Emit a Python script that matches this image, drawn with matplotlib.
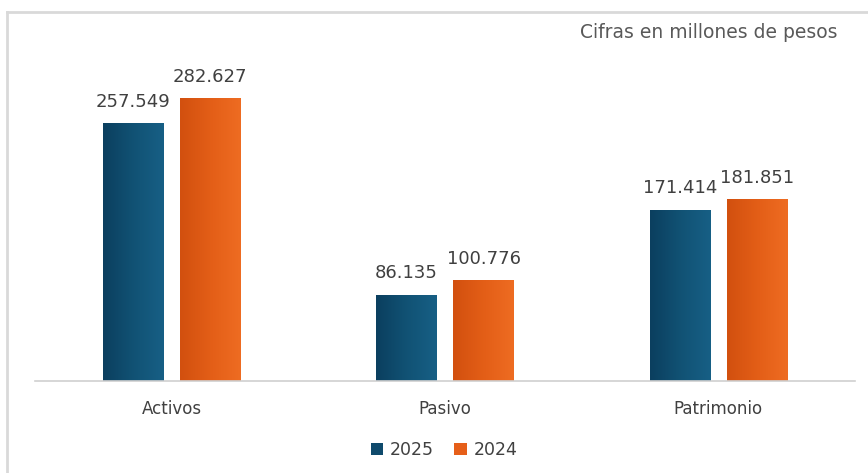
import numpy as np
import matplotlib.pyplot as plt
from matplotlib.colors import LinearSegmentedColormap
from matplotlib.lines import Line2D
from matplotlib.patches import Patch

# --- data (millones de pesos) ---
categorias = ['Activos', 'Pasivo', 'Patrimonio']
valores_2025 = [257.549, 86.135, 171.414]
valores_2024 = [282.627, 100.776, 181.851]
series = ['2025', '2024']

azul = LinearSegmentedColormap.from_list('azul', ['#0b3f5f', '#115274', '#175f85'])
naranja = LinearSegmentedColormap.from_list('naranja', ['#d2500f', '#e35e17', '#ee6c22'])

fig = plt.figure(figsize=(8.68, 4.73), dpi=100)
ax = fig.add_axes([35/868, 92/473, 820/868, 351/473])

x = np.arange(len(categorias))
ancho = 0.22
desp = 0.141

def barras_degradado(xs, vals, cmap):
    bars = ax.bar(xs, vals, width=ancho, color='none', edgecolor='none', zorder=2)
    grad = np.linspace(0, 1, 64).reshape(1, -1)
    for b in bars:
        x0, y0 = b.get_x(), b.get_y()
        im = ax.imshow(grad, cmap=cmap, aspect='auto', zorder=2,
                       extent=[x0, x0 + b.get_width(), y0, y0 + b.get_height()])
        im.set_clip_path(b)
    return bars

b25 = barras_degradado(x - desp, valores_2025, azul)
b24 = barras_degradado(x + desp, valores_2024, naranja)

for bars, vals in ((b25, valores_2025), (b24, valores_2024)):
    for b, v in zip(bars, vals):
        ax.annotate(f'{v:.3f}', (b.get_x() + b.get_width() / 2, v),
                    xytext=(0, 9), textcoords='offset points',
                    ha='center', va='bottom', fontsize=13, color='#404040')

ax.set_xlim(-0.5, 2.5)
ax.set_ylim(0, 351)
ax.set_xticks(x)
ax.set_xticklabels(categorias, fontsize=12, color='#404040')
ax.tick_params(axis='x', length=0, pad=14)
ax.set_yticks([])
for s in ['top', 'right', 'left']:
    ax.spines[s].set_visible(False)
ax.spines['bottom'].set_color('#d0d0d0')
ax.spines['bottom'].set_linewidth(1.2)

handles = [Patch(facecolor='#0f4a6c'), Patch(facecolor='#e65f19')]
fig.legend(handles, series, loc='center', bbox_to_anchor=(444/868, 23/473),
           ncol=2, frameon=False, fontsize=12.5, handlelength=0.7, handleheight=0.7,
           handletextpad=0.4, columnspacing=1.2, labelcolor='#404040')

fig.text(838/868, (473 - 33)/473, 'Cifras en millones de pesos', ha='right', va='center',
         fontsize=13.5, color='#595959')

# marco exterior
fig.add_artist(Line2D([7/868, 1], [1 - 12/473, 1 - 12/473], color='#d9d9d9', lw=2,
                      transform=fig.transFigure))
fig.add_artist(Line2D([7/868, 7/868], [0, 1 - 12/473], color='#d9d9d9', lw=2,
                      transform=fig.transFigure))

fig.savefig('out.png', dpi=100)
